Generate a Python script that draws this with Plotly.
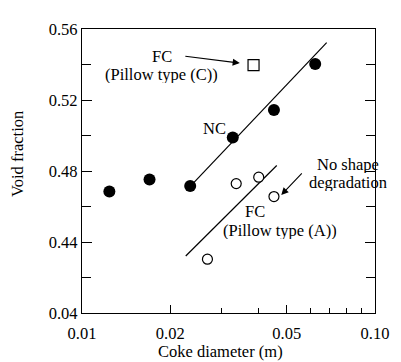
import plotly.graph_objects as go
import math

# Data
nc_x = [0.0124, 0.0170, 0.0234, 0.0327, 0.0452, 0.0625]
nc_y = [0.4685, 0.4752, 0.4716, 0.4989, 0.5144, 0.5403]
fcA_x = [0.0268, 0.0336, 0.0401, 0.0452]
fcA_y = [0.4303, 0.4729, 0.4765, 0.4656]
fcC_x = [0.0385]
fcC_y = [0.5396]
nc_line_x = [0.0235, 0.0684]
nc_line_y = [0.4716, 0.5523]
fcA_line_x = [0.0226, 0.0462]
fcA_line_y = [0.4321, 0.4831]

x_tickvals = [0.01, 0.02, 0.05, 0.10]
x_ticktext = ["0.01", "0.02", "0.05", "0.10"]
x_minor = [0.03, 0.04, 0.06, 0.07, 0.08, 0.09]
y_tickvals = [0.40, 0.44, 0.48, 0.52, 0.56]
y_ticktext = ["0.04", "0.44", "0.48", "0.52", "0.56"]
y_minor = [0.42, 0.46, 0.50, 0.54]

FONT = "Liberation Serif, Times New Roman, serif"
FS = 16.5
fig = go.Figure()
fig.add_trace(go.Scatter(x=nc_line_x, y=nc_line_y, mode="lines",
                         line=dict(color="black", width=1.2), showlegend=False))
fig.add_trace(go.Scatter(x=fcA_line_x, y=fcA_line_y, mode="lines",
                         line=dict(color="black", width=1.2), showlegend=False))
fig.add_trace(go.Scatter(x=nc_x, y=nc_y, mode="markers",
                         marker=dict(color="black", size=12), showlegend=False))
fig.add_trace(go.Scatter(x=fcA_x, y=fcA_y, mode="markers",
                         marker=dict(color="white", size=10, line=dict(color="black", width=1.2)),
                         showlegend=False))
fig.add_trace(go.Scatter(x=fcC_x, y=fcC_y, mode="markers",
                         marker=dict(color="white", size=11, symbol="square",
                                     line=dict(color="black", width=1.2)),
                         showlegend=False))

def lx(v):
    return math.log10(v)

tf = dict(family=FONT, size=FS, color="black")

def label(x, y, text, **kw):
    d = dict(x=x, y=y, text=text, showarrow=False, font=tf, height=17,
             borderpad=0, valign="middle")
    d.update(kw)
    return d

anns = [
    label(-1.727, 0.5446, "FC"),
    label(-1.727, 0.5343, "(Pillow type (C))"),
    label(-1.505, 0.5037, "NC", xanchor="right"),
    label(-1.0909, 0.4834, "No shape"),
    label(-1.0909, 0.4736, "degradation"),
    label(-1.4108, 0.4571, "FC"),
    label(-1.3232, 0.4463, "(Pillow type (A))"),
    dict(x=lx(0.03457), y=0.5408, text="", showarrow=True, ax=-56, ay=-7,
         arrowhead=2, arrowsize=1.3, arrowwidth=1.1, arrowcolor="black"),
    dict(x=-1.320, y=0.4665, text="", showarrow=True, ax=22, ay=-23,
         arrowhead=2, arrowsize=1.3, arrowwidth=1.1, arrowcolor="black"),
    # axis titles
    dict(xref="paper", yref="paper", x=0.473, y=-0.134, text="Coke diameter (m)",
         showarrow=False, font=tf, yanchor="middle"),
    dict(xref="paper", yref="paper", x=-0.2205, y=0.561, text="Void fraction",
         showarrow=False, font=tf, textangle=-90, xanchor="center", yanchor="middle"),
]

# page body has an 8px margin: figure is sized/offset to compensate
fig.update_layout(
    width=393, height=354,
    margin=dict(l=74, r=22, t=12, b=49),
    paper_bgcolor="white", plot_bgcolor="white",
    font=dict(family=FONT, size=FS, color="black"),
    annotations=anns,
    xaxis=dict(type="log", range=[-2, -1], showgrid=False, zeroline=False,
               showline=True, linecolor="black", linewidth=1.2, mirror=True,
               tickvals=x_tickvals, ticktext=x_ticktext, ticks="inside",
               ticklen=8, tickcolor="black", tickwidth=1.2, ticklabelstandoff=5,
               minor=dict(tickvals=x_minor, ticks="inside", ticklen=5,
                          tickcolor="black", showgrid=False),
               tickfont=dict(family=FONT, size=FS)),
    yaxis=dict(range=[0.40, 0.56], showgrid=False, zeroline=False,
               showline=True, linecolor="black", linewidth=1.2, mirror="ticks",
               tickvals=y_tickvals, ticktext=y_ticktext, ticks="inside",
               ticklen=10, tickcolor="black", tickwidth=1.2,
               minor=dict(tickvals=y_minor, ticks="inside", ticklen=9,
                          tickcolor="black", showgrid=False),
               tickfont=dict(family=FONT, size=FS)),
)
fig.write_html("out.html")
